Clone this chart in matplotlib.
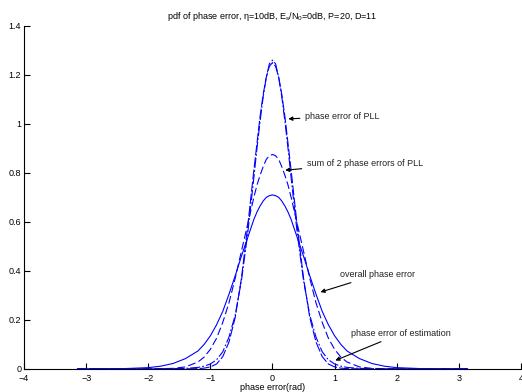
import numpy as np
import matplotlib
matplotlib.use('Agg')
import matplotlib.pyplot as plt

plt.rcParams['font.family'] = ['Liberation Sans', 'DejaVu Sans']

# values (one half, curves are symmetric about 0)
x_half = [0, 0.05, 0.1, 0.15, 0.2, 0.25, 0.3, 0.4, 0.5, 0.6, 0.7, 0.8, 0.9,
          1.0, 1.1, 1.2, 1.4, 1.6, 1.8, 2.0, 2.4, 2.8, 3.14]
pll = [1.25, 1.235, 1.19, 1.12, 1.03, 0.92, 0.81, 0.58, 0.37, 0.21, 0.11,
       0.05, 0.02, 0.008, 0.003, 0.001, 0, 0, 0, 0, 0, 0, 0]
estimation = [1.26, 1.245, 1.19, 1.11, 1.01, 0.90, 0.78, 0.55, 0.36, 0.22,
              0.13, 0.07, 0.037, 0.02, 0.011, 0.006, 0.002, 0.001, 0, 0, 0,
              0, 0]
sum_pll = [0.875, 0.87, 0.855, 0.825, 0.79, 0.75, 0.70, 0.59, 0.48, 0.37,
           0.27, 0.19, 0.125, 0.08, 0.048, 0.028, 0.008, 0.002, 0.001, 0, 0,
           0, 0]
overall = [0.71, 0.707, 0.70, 0.685, 0.665, 0.64, 0.61, 0.535, 0.46, 0.38,
           0.305, 0.235, 0.18, 0.135, 0.10, 0.073, 0.042, 0.022, 0.011, 0.005,
           0.001, 0, 0]


def mirror(v, sign=1):
    v = np.asarray(v, dtype=float)
    return np.concatenate([sign * v[::-1], v[1:]])


x = mirror(x_half, -1)

fig = plt.figure(figsize=(5.22, 3.92), dpi=100)
ax = fig.add_axes([0.046, 0.059, 0.952, 0.875])

blue = (0, 0, 1)
lw = 0.8
ax.plot(x, mirror(overall), color=blue, lw=lw)
ax.plot(x, mirror(pll), color=blue, lw=lw, dashes=(9, 2))
ax.plot(x, mirror(sum_pll), color=blue, lw=lw, dashes=(7, 3))
ax.plot(x, mirror(estimation), color=blue, lw=lw, dashes=(9, 2, 1.5, 2))

ax.set_xlim(-4, 4)
ax.set_ylim(0, 1.4)
ax.set_xticks(range(-4, 5))
ax.set_yticks([0, 0.2, 0.4, 0.6, 0.8, 1, 1.2, 1.4])
ax.set_yticklabels(['0', '0.2', '0.4', '0.6', '0.8', '1', '1.2', '1.4'])
ax.tick_params(direction='in', length=4, width=0.8, labelsize=6.5, pad=2,
               colors='black')
ax.tick_params(axis='x', pad=3.5)
ax.spines['top'].set_visible(False)
ax.spines['right'].set_visible(False)
ax.spines['left'].set_linewidth(0.8)
ax.spines['bottom'].set_linewidth(0.8)

ax.set_title('pdf of phase error, \u03b7=10dB, E$_\\mathregular{s}$/N$_\\mathregular{0}$=0dB, P=20, D=11',
             fontsize=6.5, pad=5)
ax.set_xlabel('phase error(rad)', fontsize=6.5, labelpad=0)

arrow = dict(arrowstyle='-|>', color='black', lw=0.8, mutation_scale=6)
tfont = dict(fontsize=6.5, va='center', ha='left', color='#222222')
ax.annotate('phase error of PLL', xy=(0.21, 1.02), xytext=(0.53, 1.03),
            arrowprops=arrow, **tfont)
ax.annotate('sum of 2 phase errors of PLL', xy=(0.16, 0.81), xytext=(0.56, 0.84),
            arrowprops=arrow, **tfont)
ax.annotate('overall phase error', xy=(0.73, 0.31), xytext=(1.08, 0.385),
            arrowprops=arrow, **tfont)
ax.annotate('phase error of estimation', xy=(0.97, 0.03), xytext=(1.27, 0.145),
            arrowprops=arrow, **tfont)

fig.savefig('out.png', dpi=100)
